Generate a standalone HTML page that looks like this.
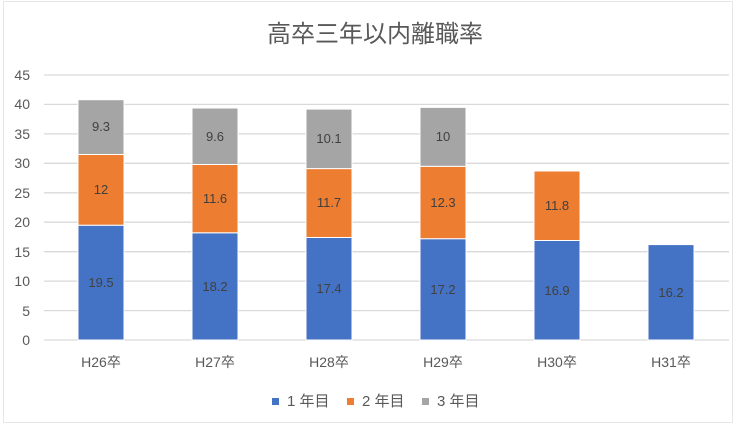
<!DOCTYPE html>
<html><head><meta charset="utf-8"><style>html,body{margin:0;padding:0;background:#fff}svg{display:block}</style></head>
<body>
<svg width="750" height="425" xmlns="http://www.w3.org/2000/svg" font-family="Liberation Sans, Noto Sans CJK JP, sans-serif">
<rect x="0" y="0" width="750" height="425" fill="#fff"/>
<rect x="3.5" y="1.5" width="729" height="421" fill="none" stroke="#e6e6e6"/>
<text x="375" y="42" text-anchor="middle" font-size="24" fill="#595959" font-family="Noto Sans CJK JP, sans-serif">高卒三年以内離職率</text>
<g stroke="#d9d9d9" stroke-width="1.3">
<line x1="44" x2="729" y1="75" y2="75"/><line x1="44" x2="729" y1="104.4" y2="104.4"/><line x1="44" x2="729" y1="133.9" y2="133.9"/><line x1="44" x2="729" y1="163.3" y2="163.3"/><line x1="44" x2="729" y1="192.8" y2="192.8"/><line x1="44" x2="729" y1="222.2" y2="222.2"/><line x1="44" x2="729" y1="251.7" y2="251.7"/><line x1="44" x2="729" y1="281.1" y2="281.1"/><line x1="44" x2="729" y1="310.6" y2="310.6"/><line x1="44" x2="729" y1="340" y2="340"/>
</g>
<g font-size="14" fill="#595959" text-anchor="end">
<text x="30" y="80">45</text><text x="30" y="109">40</text><text x="30" y="139">35</text><text x="30" y="168">30</text><text x="30" y="198">25</text><text x="30" y="227">20</text><text x="30" y="257">15</text><text x="30" y="286">10</text><text x="30" y="316">5</text><text x="30" y="345">0</text>
</g>
<g stroke="#fff" stroke-width="1">
<rect x="78" y="225.2" width="46" height="114.8" fill="#4472C4"/><rect x="78" y="154.5" width="46" height="70.7" fill="#ED7D31"/><rect x="78" y="99.7" width="46" height="54.8" fill="#A5A5A5"/>
<rect x="192" y="232.8" width="46" height="107.2" fill="#4472C4"/><rect x="192" y="164.5" width="46" height="68.3" fill="#ED7D31"/><rect x="192" y="108" width="46" height="56.5" fill="#A5A5A5"/>
<rect x="306" y="237.5" width="46" height="102.5" fill="#4472C4"/><rect x="306" y="168.6" width="46" height="68.9" fill="#ED7D31"/><rect x="306" y="109.1" width="46" height="59.5" fill="#A5A5A5"/>
<rect x="420" y="238.7" width="46" height="101.3" fill="#4472C4"/><rect x="420" y="166.3" width="46" height="72.4" fill="#ED7D31"/><rect x="420" y="107.4" width="46" height="58.9" fill="#A5A5A5"/>
<rect x="534" y="240.5" width="46" height="99.5" fill="#4472C4"/><rect x="534" y="171" width="46" height="69.5" fill="#ED7D31"/>
<rect x="648" y="244.6" width="46" height="95.4" fill="#4472C4"/>
</g>
<g font-size="13" fill="#404040" text-anchor="middle">
<text x="101" y="287">19.5</text><text x="101" y="194">12</text><text x="101" y="131">9.3</text>
<text x="215" y="291">18.2</text><text x="215" y="203">11.6</text><text x="215" y="141">9.6</text>
<text x="329" y="293">17.4</text><text x="329" y="207">11.7</text><text x="329" y="143">10.1</text>
<text x="443" y="294">17.2</text><text x="443" y="207">12.3</text><text x="443" y="141">10</text>
<text x="557" y="295">16.9</text><text x="557" y="210">11.8</text>
<text x="671" y="297">16.2</text>
</g>
<g font-size="14" fill="#595959" text-anchor="middle">
<text x="101" y="367">H26卒</text><text x="215" y="367">H27卒</text><text x="329" y="367">H28卒</text><text x="443" y="367">H29卒</text><text x="557" y="367">H30卒</text><text x="671" y="367">H31卒</text>
</g>
<g font-size="15" fill="#595959">
<rect x="272" y="398" width="7" height="7" fill="#4472C4"/><text x="287" y="406">1 年目</text>
<rect x="347" y="398" width="7" height="7" fill="#ED7D31"/><text x="362" y="406">2 年目</text>
<rect x="422" y="398" width="7" height="7" fill="#A5A5A5"/><text x="437" y="406">3 年目</text>
</g>
</svg>
</body></html>
